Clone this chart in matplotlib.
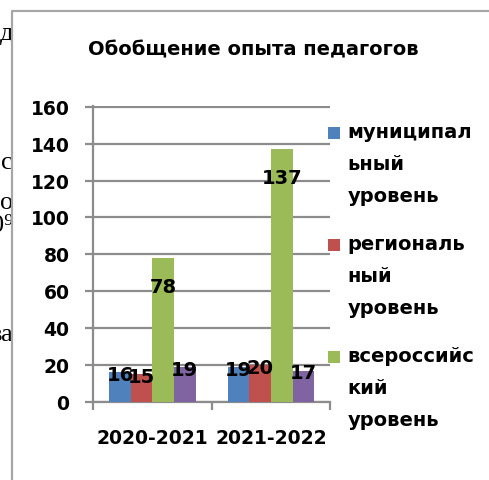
#!/usr/bin/env python3
"""Обобщение опыта педагогов - grouped bar chart (Word/Excel screenshot)."""

import numpy as np
import matplotlib
matplotlib.use("Agg")
import matplotlib.pyplot as plt
from matplotlib.patches import Rectangle
from matplotlib.lines import Line2D

# ---- data ----
years = ["2020-2021", "2021-2022"]
municipal = [16, 19]
regional = [15, 20]
national = [78, 137]
fourth = [19, 17]
series_labels = [
    "муниципал\nьный\nуровень",
    "региональ\nный\nуровень",
    "всероссийс\nкий\nуровень",
]
y_ticks = [0, 20, 40, 60, 80, 100, 120, 140, 160]
title = "Обобщение опыта педагогов"

colors = ["#4F81BD", "#C0504D", "#9BBB59", "#8064A2"]
grid_c = "#8C8C8C"

W, H = 489, 480
fig = plt.figure(figsize=((W + 0.5) / 100, (H + 0.5) / 100), dpi=100)
fig.patch.set_facecolor("white")


def fx(px):
    return px / W


def fy(py):
    return 1 - py / H


# stray document text behind the chart frame (left edge)
for txt, py in [("д", 34), ("с", 163), ("о", 203), ("0⁹", 226), ("ва", 335)]:
    fig.text(fx(13), fy(py), txt, ha="right", va="center", fontsize=19,
             family="Liberation Serif", zorder=-3)

# chart frame: white area, then only its top and left edges
fig.patches.append(Rectangle((fx(12), 0), 1 - fx(12), fy(11),
                             transform=fig.transFigure, facecolor="white",
                             edgecolor="none", zorder=-1))
fig.lines.append(Line2D([fx(12), fx(12), 1], [0, fy(11), fy(11)],
                        transform=fig.transFigure, color="#A6A6A6",
                        linewidth=1.6, zorder=-0.5))

ax = fig.add_axes([fx(93), fy(402), fx(330) - fx(93), fy(106) - fy(402)])
ax.set_facecolor("none")

x = np.arange(len(years))
w = 0.182
all_series = [municipal, regional, national, fourth]
for i, vals in enumerate(all_series):
    ax.bar(x + (i - 1.5) * w, vals, w, color=colors[i], zorder=3)
    # value labels sit inside the bar end (small bars: right at the top)
    for xi, v in zip(x + (i - 1.5) * w, vals):
        off = -21 if v > 40 else -2
        ax.annotate(str(v), (xi, v), xytext=(0, off), textcoords="offset points",
                    ha="center", va="center", fontsize=14, fontweight="bold",
                    color="black", zorder=5)

ax.set_xlim(-0.5, 1.5)
ax.set_ylim(0, 160.6)
ax.set_yticks(y_ticks)
ax.set_yticklabels([str(t) for t in y_ticks])
ax.set_xticks(x)
ax.set_xticklabels(years)
ax.set_xticks([-0.5, 0.5, 1.5], minor=True)

ax.grid(True, axis="y", color=grid_c, linewidth=1.6, zorder=0)
for s in ["top", "right"]:
    ax.spines[s].set_visible(False)
for s in ["left", "bottom"]:
    ax.spines[s].set_color(grid_c)
    ax.spines[s].set_linewidth(1.6)

ax.tick_params(axis="y", length=6, width=1.6, color=grid_c, pad=11,
               labelsize=13.5)
ax.tick_params(axis="x", which="major", length=0, pad=19, labelsize=13.5)
ax.tick_params(axis="x", which="minor", length=6, width=1.6, color=grid_c)
for lab in ax.get_yticklabels() + ax.get_xticklabels():
    lab.set_fontweight("bold")

fig.text(fx(253), fy(50), title, ha="center", va="center", fontsize=14,
         fontweight="bold")

# legend (drawn by hand: Excel wraps the long labels over three lines)
for i, lab in enumerate(series_labels):
    cy = 133 + i * 112
    fig.patches.append(Rectangle((fx(328), fy(cy + 6)), fx(12), 12 / H,
                                 transform=fig.transFigure,
                                 facecolor=colors[i], edgecolor="none"))
    fig.text(fx(347), fy(cy - 10), lab, ha="left", va="top", fontsize=14,
             fontweight="bold", linespacing=1.85)

fig.savefig("out.png", dpi=100)
